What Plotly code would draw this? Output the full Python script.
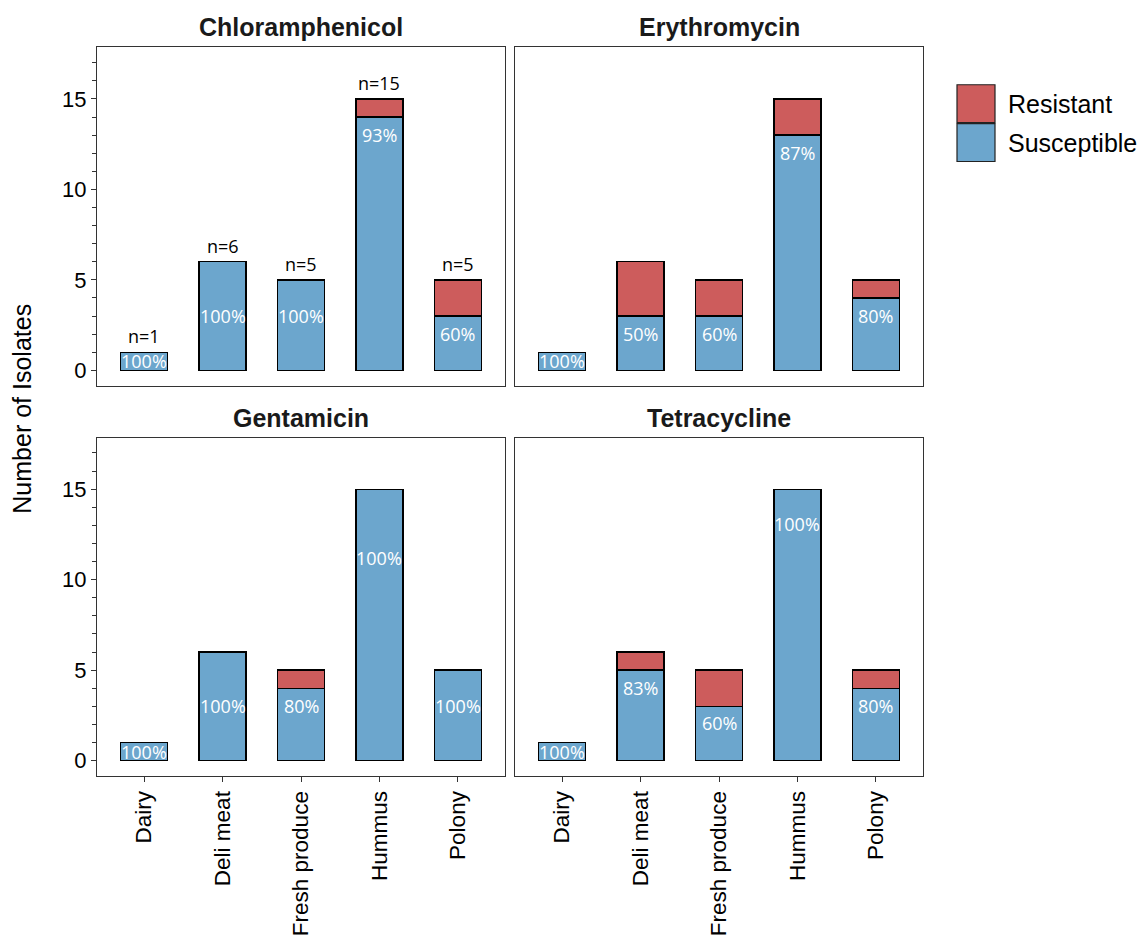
import plotly.graph_objects as go

# Sample sources and antibiotic panels
categories = ["Dairy", "Deli meat", "Fresh produce", "Hummus", "Polony"]
antibiotics = ["Chloramphenicol", "Erythromycin", "Gentamicin", "Tetracycline"]

# Number of susceptible / resistant isolates per source, per antibiotic
susceptible = {
    "Chloramphenicol": [1, 6, 5, 14, 3],
    "Erythromycin":    [1, 3, 3, 13, 4],
    "Gentamicin":      [1, 6, 4, 15, 5],
    "Tetracycline":    [1, 5, 3, 15, 4],
}
resistant = {
    "Chloramphenicol": [0, 0, 0, 1, 2],
    "Erythromycin":    [0, 3, 2, 2, 1],
    "Gentamicin":      [0, 0, 1, 0, 0],
    "Tetracycline":    [0, 1, 2, 0, 1],
}
# Height at which each percentage label sits
pct_label_y = {
    "Chloramphenicol": [0.5, 3, 3, 13, 2],
    "Erythromycin":    [0.5, 2, 2, 12, 3],
    "Gentamicin":      [0.5, 3, 3, 11.2, 3],
    "Tetracycline":    [0.5, 4, 2.1, 13.05, 3],
}
# Panel that carries the "n=" sample-size labels
n_label_panel = "Chloramphenicol"

W, H = 1142, 936
BLUE = "#6CA6CD"
RED = "#CD5C5C"
BORDER = "#333333"
ARIAL = "Liberation Sans, Arial, sans-serif"
LABEL_FONT = "Open Sans, Noto Sans, sans-serif"

# panel boxes in pixels: (left, right, top, bottom)
col_px = [(97, 505), (515, 923)]
row_px = [(47.5, 387), (439, 778.5)]


def nonzero(values):
    # empty segments are left out so they draw no outline
    return [v if v else None for v in values]


fig = go.Figure()
annotations = []
shapes = []

for i, ab in enumerate(antibiotics):
    r, c = divmod(i, 2)
    ax = "" if i == 0 else str(i + 1)
    xref, yref = "x" + ax, "y" + ax
    x0, x1 = col_px[c]
    y0, y1 = row_px[r]

    fig.add_trace(go.Bar(
        x=categories, y=nonzero(susceptible[ab]), name="Susceptible",
        marker=dict(color=BLUE, line=dict(color="black", width=1.3)),
        width=0.6, xaxis=xref, yaxis=yref, showlegend=False,
        hoverinfo="skip",
    ))
    fig.add_trace(go.Bar(
        x=categories, y=nonzero(resistant[ab]), name="Resistant",
        marker=dict(color=RED, line=dict(color="black", width=1.3)),
        width=0.6, xaxis=xref, yaxis=yref, showlegend=False,
        hoverinfo="skip",
    ))

    layout_x = dict(
        domain=[x0 / W, x1 / W], anchor=yref, type="category",
        categoryorder="array", categoryarray=categories,
        range=[-0.6, 4.6], showline=True, mirror=True,
        linecolor=BORDER, linewidth=1.2, showgrid=False, zeroline=False,
        ticks="outside" if r == 1 else "", ticklen=5, tickcolor=BORDER,
        showticklabels=(r == 1), tickangle=-90,
        tickfont=dict(family=ARIAL, size=22.5, color="black"),
    )
    layout_y = dict(
        domain=[1 - y1 / H, 1 - y0 / H], anchor=xref,
        range=[-0.85, 17.85], showline=True, mirror=True,
        linecolor=BORDER, linewidth=1.2, showgrid=False, zeroline=False,
        tickvals=[0, 5, 10, 15],
        ticks="outside" if c == 0 else "", ticklen=5, tickcolor=BORDER,
        showticklabels=(c == 0),
        tickfont=dict(family=ARIAL, size=22, color="black"),
    )
    if c == 0:
        layout_y["minor"] = dict(tickvals=list(range(0, 18)), ticks="outside",
                                 ticklen=4, tickcolor=BORDER, showgrid=False)
    fig.update_layout(**{"xaxis" + ax: layout_x, "yaxis" + ax: layout_y})

    # facet title
    annotations.append(dict(
        text="<b>" + ab + "</b>", xref="paper", yref="paper",
        x=(x0 + x1) / 2 / W, y=1 - (y0 - 4) / H,
        xanchor="center", yanchor="bottom", showarrow=False,
        font=dict(family=ARIAL, size=25, color="#1a1a1a"),
    ))

    # percentage susceptible labels
    for k, cat in enumerate(categories):
        total = susceptible[ab][k] + resistant[ab][k]
        pct = round(100 * susceptible[ab][k] / total)
        annotations.append(dict(
            text=f"{pct}%", xref=xref, yref=yref, x=cat, y=pct_label_y[ab][k],
            xanchor="center", yanchor="middle", showarrow=False,
            font=dict(family=LABEL_FONT, size=18, color="white"),
        ))
        if ab == n_label_panel:
            annotations.append(dict(
                text=f"n={total}", xref=xref, yref=yref, x=cat, y=total,
                xanchor="center", yanchor="bottom", yshift=2, showarrow=False,
                font=dict(family=LABEL_FONT, size=18, color="black"),
            ))

# y-axis title shared by both rows
annotations.append(dict(
    text="Number of Isolates", xref="paper", yref="paper",
    x=22 / W, y=1 - 410 / H, textangle=-90,
    xanchor="center", yanchor="middle", showarrow=False,
    font=dict(family=ARIAL, size=25, color="black"),
))

# legend keys
legend_items = [("Resistant", RED, 85), ("Susceptible", BLUE, 124)]
for label, color, top in legend_items:
    shapes.append(dict(
        type="rect", xref="paper", yref="paper",
        x0=957 / W, x1=995 / W, y0=1 - (top + 38) / H, y1=1 - top / H,
        fillcolor=color, line=dict(color="#222222", width=1.2),
    ))
    annotations.append(dict(
        text=label, xref="paper", yref="paper",
        x=1006 / W, y=1 - (top + 19) / H, xanchor="left", yanchor="middle",
        showarrow=False, font=dict(family=ARIAL, size=25, color="black"),
    ))

fig.update_layout(
    width=W, height=H, barmode="stack",
    margin=dict(l=0, r=0, t=0, b=0),
    paper_bgcolor="white", plot_bgcolor="white",
    annotations=annotations, shapes=shapes, showlegend=False,
)

fig.write_html("out.html")
